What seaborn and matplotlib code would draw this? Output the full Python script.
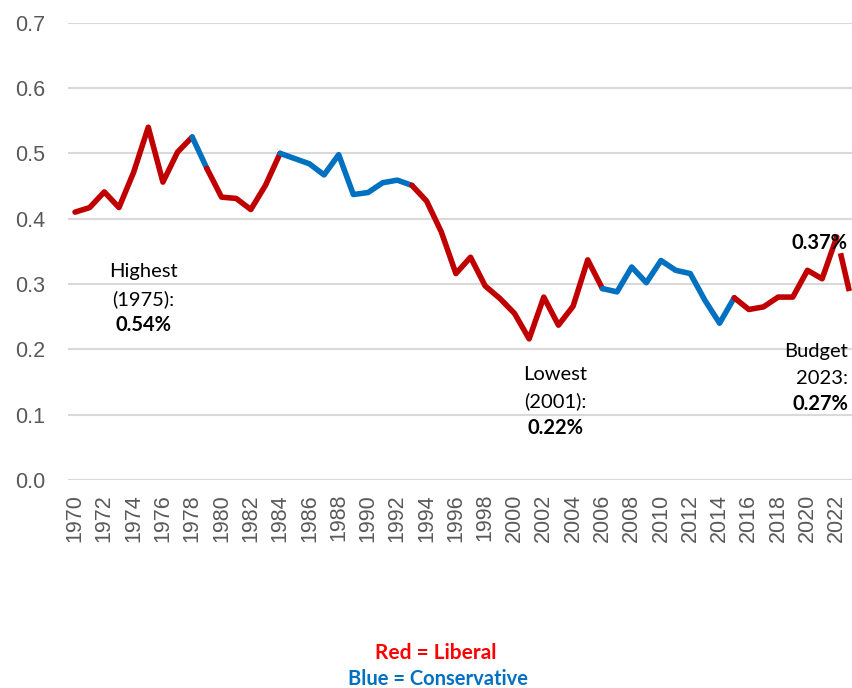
import matplotlib
matplotlib.use("Agg")
import matplotlib.pyplot as plt
import seaborn as sns
import pandas as pd

# ODA / GNI ratio by year
years = list(range(1970, 2024))
ratio = [0.410, 0.417, 0.441, 0.417, 0.471, 0.540, 0.456, 0.502, 0.525, 0.477,
         0.433, 0.431, 0.414, 0.451, 0.500, 0.492, 0.484, 0.467, 0.498, 0.437,
         0.440, 0.455, 0.459, 0.451, 0.427, 0.380, 0.316, 0.341, 0.297, 0.278,
         0.255, 0.216, 0.280, 0.237, 0.266, 0.337, 0.293, 0.288, 0.326, 0.302,
         0.336, 0.321, 0.316, 0.275, 0.240, 0.279, 0.261, 0.265, 0.280, 0.280,
         0.321, 0.308, 0.372, 0.275]

# governing party periods: (start year, end year, party)
periods = [(1970, 1978, "Liberal"), (1978, 1979, "Conservative"),
           (1979, 1984, "Liberal"), (1984, 1993, "Conservative"),
           (1993, 2006, "Liberal"), (2006, 2015, "Conservative"),
           (2015, 2022, "Liberal"), (2022, 2023, "Budget")]

party_colors = {"Liberal": "#C00000", "Conservative": "#0070C0", "Budget": "#C00000"}

df = pd.DataFrame({"year": years, "ratio": ratio})

W, H = 852, 688
fig = plt.figure(figsize=(W / 100, H / 100), dpi=100)
sns.set_style("white")
plt.rcParams["font.family"] = ["Liberation Sans", "DejaVu Sans"]

left_px, right_px = 67.7, 852
ax = fig.add_axes([left_px / W, (H - 480) / H, (right_px - left_px) / W, (480 - 22.7) / H])

for start, end, party in periods:
    seg = df[(df.year >= start) & (df.year <= end)]
    ls = (7, (7, 3)) if party == "Budget" else "-"
    sns.lineplot(data=seg, x="year", y="ratio", ax=ax, color=party_colors[party],
                 linewidth=4.0, linestyle=ls, solid_capstyle="round",
                 solid_joinstyle="round", dash_capstyle="butt")

ax.set_xlim(1969.5, 2023.04)
ax.set_ylim(0, 0.7)
ax.set_yticks([i / 10 for i in range(8)])
ax.set_yticklabels([f"{i / 10:.1f}" for i in range(8)])
ax.set_xticks(years[::2])
ax.set_xticklabels([str(y) for y in years[::2]], rotation=90)
ax.tick_params(axis="y", length=0, pad=16, labelsize=15.5, labelcolor="#595959")
ax.tick_params(axis="x", length=0, pad=10, labelsize=15.5, labelcolor="#595959")
ax.grid(axis="y", color="#D9D9D9", linewidth=1.5)
ax.set_axisbelow(True)
for s in ax.spines.values():
    s.set_visible(False)
ax.set_xlabel("")
ax.set_ylabel("")


def label(x, y, s, bold=False, ha="center", color="black", size=14.5):
    fig.text(x / W, 1 - y / H, s, ha=ha, va="center", color=color, fontsize=size,
             fontweight="bold" if bold else "normal", family=["Lato", "DejaVu Sans"])


label(143, 272, "Highest")
label(143, 299, "(1975):")
label(143, 325, "0.54%", bold=True)
label(555, 375, "Lowest")
label(555, 401, "(2001):")
label(555, 428, "0.22%", bold=True)
label(848, 243, "0.37%", bold=True, ha="right")
label(848, 352, "Budget", ha="right")
label(848, 378, "2023:", ha="right")
label(848, 404, "0.27%", bold=True, ha="right")
label(436, 653, "Red = Liberal", bold=True, color="#FF0000", size=15)
label(438, 679, "Blue = Conservative", bold=True, color="#0070C0", size=14.5)

fig.savefig("out.png", dpi=100)
